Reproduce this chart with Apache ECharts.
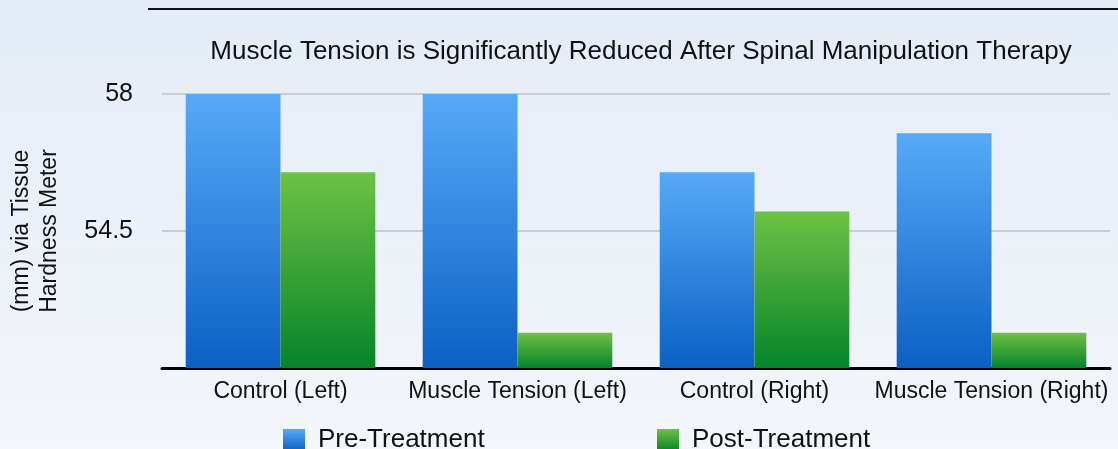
<!DOCTYPE html>
<html>
<head>
<meta charset="utf-8">
<script src="https://cdn.jsdelivr.net/npm/echarts@6/dist/echarts.min.js"></script>
<style>
  html, body { margin: 0; padding: 0; }
  #chart { width: 1118px; height: 449px; }
</style>
</head>
<body>
<div id="chart"></div>
<script>
const categories = ["Control (Left)", "Muscle Tension (Left)", "Control (Right)", "Muscle Tension (Right)"];
const preTreatment = [58, 58, 56, 57];
const postTreatment = [56, 51.9, 55, 51.9];
const seriesNames = ["Pre-Treatment", "Post-Treatment"];

const font = "Liberation Sans, Arial, Helvetica, sans-serif";

const blue = new echarts.graphic.LinearGradient(0, 0, 0, 1, [
  { offset: 0, color: "#57aaf9" },
  { offset: 1, color: "#0b60c2" },
]);
const green = new echarts.graphic.LinearGradient(0, 0, 0, 1, [
  { offset: 0, color: "#6ec244" },
  { offset: 1, color: "#05842a" },
]);

const chart = echarts.init(document.getElementById("chart"));

const legendText = { fontSize: 26, color: "#111", fontFamily: font, padding: [0, 0, 0, 8] };

chart.setOption({
  backgroundColor: new echarts.graphic.LinearGradient(0, 0, 0, 1, [
    { offset: 0, color: "#e4ecf7" },
    { offset: 1, color: "#f3f6fa" },
  ]),
  textStyle: { fontFamily: font },
  animation: false,
  title: {
    text: "Muscle Tension is Significantly Reduced After Spinal Manipulation Therapy",
    left: 636,
    textAlign: "center",
    top: 34,
    textStyle: { fontSize: 26, fontWeight: "normal", color: "#111", fontFamily: font },
  },
  graphic: [
    {
      type: "line",
      shape: { x1: 148, y1: 9, x2: 1118, y2: 9 },
      style: { stroke: "#111", lineWidth: 2 },
    },
  ],
  legend: [
    {
      data: [seriesNames[0]],
      icon: "rect",
      left: 278,
      top: 422,
      itemWidth: 22,
      itemHeight: 22,
      textStyle: legendText,
    },
    {
      data: [seriesNames[1]],
      icon: "rect",
      left: 652,
      top: 422,
      itemWidth: 22,
      itemHeight: 22,
      textStyle: legendText,
    },
  ],
  grid: {
    left: 162,
    right: 8,
    top: 94,
    bottom: 81,
  },
  xAxis: {
    type: "category",
    data: categories,
    axisLine: { lineStyle: { color: "#000", width: 3 } },
    axisTick: { show: false },
    axisLabel: { fontSize: 23, color: "#111", margin: 12, interval: 0, fontFamily: font },
  },
  yAxis: {
    type: "value",
    min: 51,
    max: 58,
    interval: 3.5,
    name: "(mm) via Tissue\nHardness Meter",
    nameLocation: "middle",
    nameGap: 98,
    nameRotate: 90,
    nameTextStyle: { fontSize: 23, color: "#111", lineHeight: 28, fontFamily: font },
    axisLine: { show: false },
    axisTick: { show: false },
    axisLabel: {
      fontSize: 25,
      color: "#111",
      margin: 29,
      fontFamily: font,
      formatter: (v) => (v === 51 ? "" : String(v)),
    },
    splitLine: { lineStyle: { color: "#c9ccd2", width: 2 } },
  },
  series: [
    {
      name: seriesNames[0],
      type: "bar",
      data: preTreatment,
      barGap: "0%",
      barCategoryGap: "20%",
      itemStyle: { color: blue },
    },
    {
      name: seriesNames[1],
      type: "bar",
      data: postTreatment,
      itemStyle: { color: green },
    },
  ],
});
</script>
</body>
</html>
